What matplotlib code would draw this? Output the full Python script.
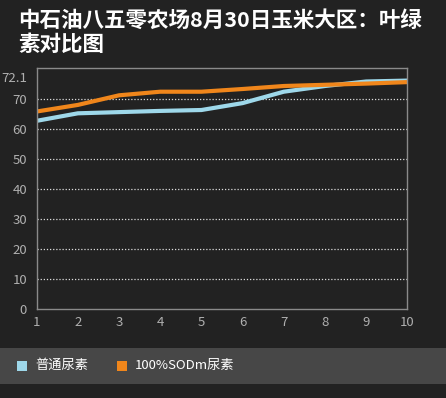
import matplotlib.pyplot as plt
from matplotlib.patches import Rectangle

plt.rcParams['font.family'] = ['Noto Sans CJK SC', 'DejaVu Sans']

# data
days = [1, 2, 3, 4, 5, 6, 7, 8, 9, 10]
normal_urea = [62.8, 65.3, 65.7, 66.1, 66.4, 68.7, 72.5, 74.4, 75.9, 76.2]
sodm_urea = [65.9, 68.1, 71.3, 72.5, 72.5, 73.4, 74.4, 74.8, 75.2, 75.7]
series_names = ['普通尿素', '100%SODm尿素']
series_colors = ['#9ed8ea', '#f0861b']
ytick_vals = [0, 10, 20, 30, 40, 50, 60, 70, 77.3]
ytick_labels = ['0', '10', '20', '30', '40', '50', '60', '70', '72.1']

bg = '#222222'
fig = plt.figure(figsize=(4.46, 3.98), dpi=100, facecolor=bg)
ax = fig.add_axes([0.0823, 0.2229, 0.831, 0.6055], facecolor=bg)

ax.plot(days, normal_urea, color=series_colors[0], lw=3, solid_joinstyle='round', solid_capstyle='butt')
ax.plot(days, sodm_urea, color=series_colors[1], lw=3, solid_joinstyle='round', solid_capstyle='butt')

ax.set_xlim(1, 10)
ax.set_ylim(0, 80.3)
ax.set_xticks(days)
ax.set_yticks(ytick_vals)
ax.set_yticklabels(ytick_labels)
for v in range(10, 80, 10):
    ax.axhline(v, color='#dddddd', lw=0.9, ls=(0, (1, 1.5)), zorder=0)

for s in ax.spines.values():
    s.set_color('#8a8a8a')
    s.set_linewidth(1)
ax.tick_params(length=0, colors='#b0b0b0', labelsize=9.5)
ax.tick_params(axis='x', pad=5)
ax.tick_params(axis='y', pad=7)

fig.text(0.041, 0.975, '中石油八五零农场8月30日玉米大区：叶绿\n素对比图',
         color='white', fontsize=15.5, fontweight='bold', va='top', ha='left',
         linespacing=1.2)

# legend band
fig.patches.append(Rectangle((0, 14 / 398), 1, 36 / 398, transform=fig.transFigure,
                             facecolor='#474747', edgecolor='none'))
legend_x = [17, 117]
for name, col, lx in zip(series_names, series_colors, legend_x):
    fig.patches.append(Rectangle((lx / 446, 27 / 398), 10 / 446, 10 / 398,
                                 transform=fig.transFigure, facecolor=col, edgecolor='none'))
    fig.text((lx + 18) / 446, 33 / 398, name, color='white', fontsize=9.5, va='center', ha='left')

fig.savefig('out.png', dpi=100, facecolor=bg)
